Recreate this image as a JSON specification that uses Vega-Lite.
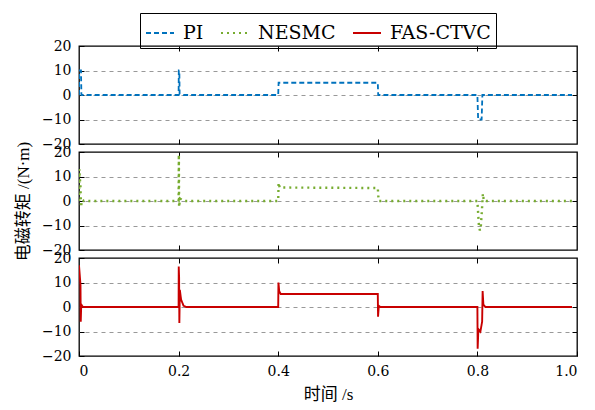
{
  "$schema": "https://vega.github.io/schema/vega-lite/v6.json",
  "padding": {"left": 13, "top": 12, "right": 12, "bottom": 5},
  "background": "white",
  "config": {
    "font": "DejaVu Serif",
    "view": {"stroke": "black", "strokeWidth": 1.3},
    "axis": {
      "labelFont": "DejaVu Serif",
      "labelFontSize": 14,
      "labelColor": "black",
      "tickColor": "black",
      "tickSize": -5,
      "tickWidth": 1,
      "domain": false,
      "grid": false,
      "titleFont": "Liberation Serif, Noto Sans CJK SC",
      "titleFontSize": 17,
      "titleFontWeight": "normal",
      "titleColor": "black"
    },
    "legend": {
      "orient": "none",
      "legendX": 61,
      "legendY": -33,
      "direction": "horizontal",
      "strokeColor": "black",
      "padding": 5,
      "symbolType": "stroke",
      "symbolSize": 784,
      "symbolStrokeWidth": 2,
      "labelFont": "DejaVu Serif",
      "labelFontSize": 19,
      "labelColor": "black",
      "labelOffset": 8,
      "columnPadding": 13
    }
  },
  "datasets": {
    "d": [
      {"s": "PI", "t": 0, "v": 0}, {"s": "PI", "t": 0.0005, "v": 10}, {"s": "PI", "t": 0.004, "v": 10}, {"s": "PI", "t": 0.0048, "v": 0},
      {"s": "PI", "t": 0.2, "v": 0}, {"s": "PI", "t": 0.2004, "v": 10}, {"s": "PI", "t": 0.2015, "v": 10}, {"s": "PI", "t": 0.202, "v": 0.5},
      {"s": "PI", "t": 0.21, "v": 0}, {"s": "PI", "t": 0.4, "v": 0}, {"s": "PI", "t": 0.4008, "v": 5}, {"s": "PI", "t": 0.6, "v": 5},
      {"s": "PI", "t": 0.6008, "v": 0}, {"s": "PI", "t": 0.8, "v": 0}, {"s": "PI", "t": 0.8015, "v": -10}, {"s": "PI", "t": 0.8085, "v": -10},
      {"s": "PI", "t": 0.81, "v": 0}, {"s": "PI", "t": 0.99, "v": 0},
      {"s": "NESMC", "t": 0, "v": 0}, {"s": "NESMC", "t": 0.0005, "v": 13}, {"s": "NESMC", "t": 0.0015, "v": 10}, {"s": "NESMC", "t": 0.003, "v": 6},
      {"s": "NESMC", "t": 0.004, "v": -2.5}, {"s": "NESMC", "t": 0.006, "v": 0.5}, {"s": "NESMC", "t": 0.01, "v": 0}, {"s": "NESMC", "t": 0.2, "v": 0},
      {"s": "NESMC", "t": 0.2005, "v": 19}, {"s": "NESMC", "t": 0.201, "v": -2.5}, {"s": "NESMC", "t": 0.203, "v": 1}, {"s": "NESMC", "t": 0.21, "v": 0},
      {"s": "NESMC", "t": 0.4, "v": 0}, {"s": "NESMC", "t": 0.4008, "v": 7.5}, {"s": "NESMC", "t": 0.403, "v": 5.5}, {"s": "NESMC", "t": 0.6, "v": 5.3},
      {"s": "NESMC", "t": 0.6008, "v": 2.5}, {"s": "NESMC", "t": 0.602, "v": 0}, {"s": "NESMC", "t": 0.8, "v": 0}, {"s": "NESMC", "t": 0.8015, "v": -5},
      {"s": "NESMC", "t": 0.803, "v": -10}, {"s": "NESMC", "t": 0.805, "v": -12}, {"s": "NESMC", "t": 0.807, "v": -10}, {"s": "NESMC", "t": 0.809, "v": -4},
      {"s": "NESMC", "t": 0.811, "v": 3}, {"s": "NESMC", "t": 0.813, "v": 0}, {"s": "NESMC", "t": 0.99, "v": 0},
      {"s": "FAS-CTVC", "t": 0, "v": 17}, {"s": "FAS-CTVC", "t": 0.0015, "v": 13}, {"s": "FAS-CTVC", "t": 0.003, "v": 9}, {"s": "FAS-CTVC", "t": 0.0035, "v": -6},
      {"s": "FAS-CTVC", "t": 0.0045, "v": 1}, {"s": "FAS-CTVC", "t": 0.008, "v": 0}, {"s": "FAS-CTVC", "t": 0.2, "v": 0}, {"s": "FAS-CTVC", "t": 0.2003, "v": 16.5},
      {"s": "FAS-CTVC", "t": 0.201, "v": 12}, {"s": "FAS-CTVC", "t": 0.2015, "v": -6.5}, {"s": "FAS-CTVC", "t": 0.2025, "v": 7}, {"s": "FAS-CTVC", "t": 0.205, "v": 3},
      {"s": "FAS-CTVC", "t": 0.21, "v": 0.5}, {"s": "FAS-CTVC", "t": 0.215, "v": 0}, {"s": "FAS-CTVC", "t": 0.4, "v": 0}, {"s": "FAS-CTVC", "t": 0.4005, "v": 10},
      {"s": "FAS-CTVC", "t": 0.402, "v": 6.5}, {"s": "FAS-CTVC", "t": 0.405, "v": 5.3}, {"s": "FAS-CTVC", "t": 0.6, "v": 5.3}, {"s": "FAS-CTVC", "t": 0.6005, "v": -4},
      {"s": "FAS-CTVC", "t": 0.602, "v": 0.5}, {"s": "FAS-CTVC", "t": 0.605, "v": 0}, {"s": "FAS-CTVC", "t": 0.8, "v": 0}, {"s": "FAS-CTVC", "t": 0.8005, "v": -17},
      {"s": "FAS-CTVC", "t": 0.802, "v": -9}, {"s": "FAS-CTVC", "t": 0.806, "v": -10}, {"s": "FAS-CTVC", "t": 0.8095, "v": -6}, {"s": "FAS-CTVC", "t": 0.8105, "v": 6.5},
      {"s": "FAS-CTVC", "t": 0.812, "v": 1}, {"s": "FAS-CTVC", "t": 0.816, "v": 0}, {"s": "FAS-CTVC", "t": 0.99, "v": 0}
    ]
  },
  "data": {"name": "d"},
  "spacing": 8,
  "bounds": "flush",
  "vconcat": [
    {
      "width": 498, "height": 98,
      "transform": [{"filter": "datum.s === 'PI'"}],
      "layer": [
        {
          "mark": {"type": "line", "strokeWidth": 1.8, "clip": true},
          "encoding": {
            "x": {"field": "t", "type": "quantitative", "scale": {"domain": [0, 1], "nice": false}, "axis": {"orient": "bottom", "labels": false, "title": null, "values": [0.2, 0.4, 0.6, 0.8]}},
            "y": {"field": "v", "type": "quantitative", "scale": {"domain": [-20, 20], "nice": false}, "axis": {"orient": "left", "values": [-20, -10, 0, 10, 20], "title": null, "labelPadding": 13}},
            "color": {"field": "s", "type": "nominal", "scale": {"domain": ["PI", "NESMC", "FAS-CTVC"], "range": ["#0072BD", "#77AC30", "#C80000"]}, "legend": {"title": null}},
            "strokeDash": {"field": "s", "type": "nominal", "scale": {"domain": ["PI", "NESMC", "FAS-CTVC"], "range": [[5, 3], [2, 4], [1, 0]]}, "legend": {"title": null}}
          }
        },
        {
          "mark": {"type": "line", "opacity": 0},
          "encoding": {
            "x": {"field": "t", "type": "quantitative", "axis": {"orient": "top", "labels": false, "title": null, "values": [0.2, 0.4, 0.6, 0.8]}},
            "y": {"field": "v", "type": "quantitative", "axis": {"orient": "right", "labels": false, "title": null, "values": [-10, 0, 10], "grid": true, "gridDash": [4, 4], "gridColor": "#999999", "gridWidth": 1}}
          }
        }
      ],
      "resolve": {"axis": {"x": "independent", "y": "independent"}}
    },
    {
      "width": 498, "height": 98,
      "transform": [{"filter": "datum.s === 'NESMC'"}],
      "layer": [
        {
          "mark": {"type": "line", "strokeWidth": 2.4, "clip": true},
          "encoding": {
            "x": {"field": "t", "type": "quantitative", "scale": {"domain": [0, 1], "nice": false}, "axis": {"orient": "bottom", "labels": false, "title": null, "values": [0.2, 0.4, 0.6, 0.8]}},
            "y": {"field": "v", "type": "quantitative", "scale": {"domain": [-20, 20], "nice": false}, "axis": {"orient": "left", "values": [-20, -10, 0, 10, 20], "title": "电磁转矩 /(N·m)", "labelPadding": 13, "titlePadding": 9}},
            "color": {"field": "s", "type": "nominal", "scale": {"domain": ["PI", "NESMC", "FAS-CTVC"], "range": ["#0072BD", "#77AC30", "#C80000"]}, "legend": {"title": null}},
            "strokeDash": {"field": "s", "type": "nominal", "scale": {"domain": ["PI", "NESMC", "FAS-CTVC"], "range": [[5, 3], [2, 4], [1, 0]]}, "legend": {"title": null}}
          }
        },
        {
          "mark": {"type": "line", "opacity": 0},
          "encoding": {
            "x": {"field": "t", "type": "quantitative", "axis": {"orient": "top", "labels": false, "title": null, "values": [0.2, 0.4, 0.6, 0.8]}},
            "y": {"field": "v", "type": "quantitative", "axis": {"orient": "right", "labels": false, "title": null, "values": [-10, 0, 10], "grid": true, "gridDash": [4, 4], "gridColor": "#999999", "gridWidth": 1}}
          }
        }
      ],
      "resolve": {"axis": {"x": "independent", "y": "independent"}}
    },
    {
      "width": 498, "height": 98,
      "transform": [{"filter": "datum.s === 'FAS-CTVC'"}],
      "layer": [
        {
          "mark": {"type": "line", "strokeWidth": 1.9, "clip": true},
          "encoding": {
            "x": {"field": "t", "type": "quantitative", "scale": {"domain": [0, 1], "nice": false}, "axis": {"orient": "bottom", "title": "时间 /s", "values": [0, 0.2, 0.4, 0.6, 0.8, 1], "labelExpr": "datum.value == 0 ? '0' : format(datum.value, '.1f')", "labelPadding": 13, "titlePadding": 8}},
            "y": {"field": "v", "type": "quantitative", "scale": {"domain": [-20, 20], "nice": false}, "axis": {"orient": "left", "values": [-20, -10, 0, 10, 20], "title": null, "labelPadding": 13}},
            "color": {"field": "s", "type": "nominal", "scale": {"domain": ["PI", "NESMC", "FAS-CTVC"], "range": ["#0072BD", "#77AC30", "#C80000"]}, "legend": {"title": null}},
            "strokeDash": {"field": "s", "type": "nominal", "scale": {"domain": ["PI", "NESMC", "FAS-CTVC"], "range": [[5, 3], [2, 4], [1, 0]]}, "legend": {"title": null}}
          }
        },
        {
          "mark": {"type": "line", "opacity": 0},
          "encoding": {
            "x": {"field": "t", "type": "quantitative", "axis": {"orient": "top", "labels": false, "title": null, "values": [0.2, 0.4, 0.6, 0.8]}},
            "y": {"field": "v", "type": "quantitative", "axis": {"orient": "right", "labels": false, "title": null, "values": [-10, 0, 10], "grid": true, "gridDash": [4, 4], "gridColor": "#999999", "gridWidth": 1}}
          }
        }
      ],
      "resolve": {"axis": {"x": "independent", "y": "independent"}}
    }
  ]
}
